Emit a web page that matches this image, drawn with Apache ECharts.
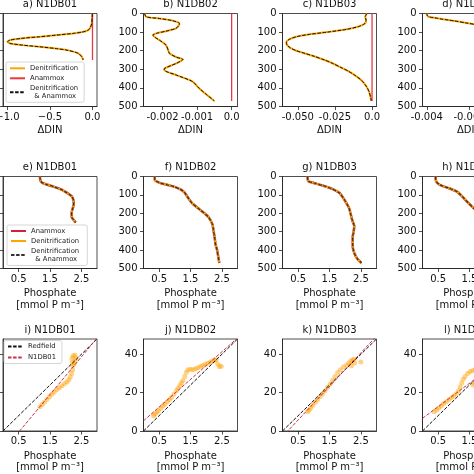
<!DOCTYPE html>
<html><head><meta charset="utf-8">
<script src="https://cdn.jsdelivr.net/npm/echarts@6/dist/echarts.min.js"></script>
<style>html,body{margin:0;padding:0;background:#fff;overflow:hidden}#c{width:474px;height:474px}</style>
</head><body><div id="c"></div>
<script>
// ---------- DATA ----------
// Row 1: ΔDIN profiles (depth in m)
const depA = [0,20,54,75,89,100,107,116,125,134,143,152,161,170,179,188,197,214,232,250];
const dinA = [-0.001,-0.004,-0.009,-0.025,-0.05,-0.12,-0.226,-0.42,-0.62,-0.84,-0.97,-1.0,-0.97,-0.82,-0.62,-0.44,-0.30,-0.167,-0.127,-0.108];
const depB = [0,18,27,39,54,65,80,95,107,116,130,143,170,200,214,235,247,268,295,304,331,366,400,440,470];
const dinB = [-0.00252,-0.00247,-0.00209,-0.0017,-0.00151,-0.00153,-0.00161,-0.0019,-0.00218,-0.00228,-0.0022,-0.00209,-0.0019,-0.00183,-0.0018,-0.0016,-0.00141,-0.0016,-0.00194,-0.00195,-0.0016,-0.00113,-0.00095,-0.0007,-0.0005];
const depC = [0,18,36,55,70,85,100,112,125,140,155,170,185,200,215,230,250,270,290,310,335,360,390,420,450,470];
const dinC = [-0.0034,-0.0046,-0.004,-0.005,-0.009,-0.017,-0.030,-0.042,-0.051,-0.056,-0.0577,-0.0572,-0.055,-0.051,-0.045,-0.039,-0.032,-0.026,-0.021,-0.016,-0.011,-0.007,-0.004,-0.002,-0.001,-0.0005];
const depD = [0,10,18,22,26,30,35,40,50,60,80,100,150,200,300,400,470];
const dinD = [-0.004,-0.00398,-0.0039,-0.0037,-0.0035,-0.0033,-0.003,-0.0027,-0.0022,-0.0017,-0.001,-0.0006,-0.0003,-0.0002,-0.0001,-0.00005,-0.00003];
const anammoxDIN = 0; // Anammox-only ΔDIN (zero change)

// Row 2: Phosphate profiles
const depE = [0,20,33,45,55,70,82,95,109,130,146,165,182,200,219,235,250];
const phE = [1.18,1.19,1.24,1.42,1.61,1.85,1.98,2.1,2.2,2.25,2.26,2.24,2.21,2.19,2.19,2.25,2.32];
const depF = [0,18,33,45,55,70,85,110,145,180,220,260,290,330,370,400,440,470];
const phF = [0.36,0.36,0.5,0.75,0.97,1.18,1.3,1.4,1.55,1.8,2.07,2.2,2.23,2.27,2.3,2.35,2.39,2.42];
const depG = [0,25,35,50,65,90,125,170,200,240,270,300,330,380,420,450,470];
const phG = [0.8,0.82,1.0,1.3,1.55,1.82,1.97,2.12,2.17,2.23,2.29,2.27,2.24,2.24,2.3,2.4,2.52];
const depH = [0,15,30,45,64,82,100,120,145,175,200,250,300,350,400,470];
const phH = [0.42,0.42,0.45,0.55,0.85,1.1,1.22,1.33,1.47,1.65,1.8,2.0,2.15,2.25,2.32,2.4];

// Row 3: Nitrate vs phosphate
const phI = [1.18,1.25,1.32,1.40,1.48,1.56,1.64,1.72,1.80,1.88,1.96,2.04,2.10,2.15,2.19,2.22,2.23,2.21,2.20,2.24,2.30,2.33,2.30,2.26];
const nI  = [12.6,13.8,15.0,16.4,17.8,19.2,20.4,21.6,22.6,23.6,24.6,25.6,26.8,28.2,30.0,32.0,34.0,36.0,38.0,39.3,39.5,38.0,36.5,35.0];
const phJ = [0.32,0.36,0.42,0.47,0.55,0.62,0.68,0.76,0.83,0.89,0.97,1.05,1.10,1.16,1.21,1.26,1.32,1.37,1.42,1.50,1.58,1.66,1.74,1.82,1.89,1.97,2.05,2.13,2.21,2.27,2.32,2.37,2.42,2.48];
const nJ  = [7.9,8.8,9.6,10.5,11.8,13.0,14.0,15.2,16.3,17.5,19.2,21.0,22.3,23.7,25.0,26.3,28.5,30.7,32.0,32.2,32.0,32.5,33.0,33.6,34.2,34.8,35.4,36.0,36.5,37.0,37.2,35.0,33.5,33.8];
const phK = [0.80,0.85,0.90,0.97,1.05,1.12,1.20,1.28,1.36,1.44,1.52,1.60,1.68,1.76,1.85,1.95,2.05,2.12,2.18,2.24,2.28,2.20,2.30,2.50];
const nK  = [10.0,11.0,12.0,13.5,15.0,16.5,18.0,19.5,21.0,22.8,24.5,26.5,28.5,30.5,32.0,33.5,34.5,35.5,36.5,37.0,37.5,34.0,35.5,36.0];
const phL = [0.37,0.45,0.52,0.60,0.68,0.76,0.85,0.93,1.00,1.08,1.15,1.20,1.25,1.30,1.36,1.44,1.52,1.60,1.68,1.62,1.66,1.75,1.85,1.98,2.10,2.22,2.32,2.40];
const nL  = [10.0,11.0,12.0,13.0,14.3,15.3,16.5,17.5,18.3,19.5,21.0,23.0,25.0,27.0,28.5,30.0,31.0,31.5,32.0,24.0,25.0,26.0,27.5,29.0,30.5,32.0,33.5,34.5];
const redfieldRatio = 16;
const regSlope = [19.6, 14.4, 17.5, 12.2];
const regIntercept = [-10.4, 5.3, -2.98, 6.6];
const lineX = [0, 3];

// Titles and ticks
const stations = ['N1DB01','N1DB02','N1DB03','N1DB04'];
const panelLetters = [['a','b','c','d'],['e','f','g','h'],['i','j','k','l']];
const dinRange = [[-1.053,0.053],[-0.00255,0.00017],[-0.0603,0.0030],[-0.0042,0.0002]];
const dinTicks = [[-1,-0.5,0],[-0.002,-0.001,0],[-0.05,-0.025,0],[-0.004,-0.002,0]];
const dinTickLabels = [['\u22121.0','\u22120.5','0.0'],['-0.002','-0.001','0.0'],['-0.050','-0.025','0.0'],['-0.004','-0.002','0.0']];
const phosTicks = [0.5,1.5,2.5];
const phosTickLabels = ['0.5','1.5','2.5'];
const nitTicks = [0,20,40];

// ---------- LAYOUT ----------
const FONT = 'DejaVu Sans';
const AX = '#222';
const colLeft = [3, 143.5, 282.5, 422.5];
const W = 94;
const rowTop = [13.5, 176.5, 339];
const rowH = [93, 92, 92];

const grids = [], xAxes = [], yAxes = [], series = [], graphics = [];
const lbl = (extra) => Object.assign({fontSize:10, color:'#111', fontFamily:FONT}, extra||{});

function baseAxis(idx, extra) {
  return Object.assign({
    type:'value', gridIndex:idx,
    axisLine:{show:true, onZero:false, lineStyle:{color:AX, width:0.8}},
    splitLine:{show:false}
  }, extra);
}
function pick(ticks, labels) {
  return function(v){ let b=0,bd=1e9; ticks.forEach((t,k)=>{const d=Math.abs(t-v); if(d<bd){bd=d;b=k;}}); return labels[b]; };
}

for (let r=0;r<3;r++) for (let c=0;c<4;c++) {
  const idx = r*4+c;
  grids.push({left:colLeft[c], top:rowTop[r], width:W, height:rowH[r], show:true,
    borderColor:AX, borderWidth:0.8, backgroundColor:'rgba(0,0,0,0)', containLabel:false, outerBoundsMode:'none'});
  graphics.push({type:'text', x:colLeft[c]+W/2, y:rowTop[r]-8.8, silent:true,
    style:{text:panelLetters[r][c]+') '+stations[c], font:'10px "DejaVu Sans"', fill:'#111', align:'center', verticalAlign:'middle'}});
  const nameStyle = lbl({lineHeight:11.5});
  if (r===0) {
    xAxes.push(baseAxis(idx,{min:dinRange[c][0], max:dinRange[c][1],
      axisTick:{show:true, length:3.5, lineStyle:{color:AX,width:0.8}, customValues:dinTicks[c]},
      axisLabel:lbl({customValues:dinTicks[c], margin:5.5, formatter:pick(dinTicks[c], dinTickLabels[c])}),
      name:'\u0394DIN', nameLocation:'middle', nameGap:18, nameTextStyle:nameStyle}));
  } else {
    xAxes.push(baseAxis(idx,{min:0, max:3,
      axisTick:{show:true, length:3.5, lineStyle:{color:AX,width:0.8}, customValues:phosTicks},
      axisLabel:lbl({customValues:phosTicks, margin:5.5, formatter:pick(phosTicks, phosTickLabels)}),
      name:'Phosphate\n[mmol P m\u207B\u00B3]', nameLocation:'middle', nameGap:19.5, nameTextStyle:nameStyle}));
  }
  if (r<2) {
    yAxes.push(baseAxis(idx,{inverse:true, min:0, max:500, interval:100,
      axisTick:{show:true, length:3.5, lineStyle:{color:AX,width:0.8}},
      axisLabel:lbl({margin:6})}));
  } else {
    yAxes.push(baseAxis(idx,{min:0, max:48,
      axisTick:{show:true, length:3.5, lineStyle:{color:AX,width:0.8}, customValues:nitTicks},
      axisLabel:lbl({margin:6, customValues:nitTicks})}));
  }
}

const ORANGE = '#ffa500';
const dashed = {color:'#111', width:1, type:[3.5,1.6]};
const prof1 = [[depA,dinA],[depB,dinB],[depC,dinC],[depD,dinD]];
const prof2 = [[depE,phE],[depF,phF],[depG,phG],[depH,phH]];
const sc3 = [[phI,nI],[phJ,nJ],[phK,nK],[phL,nL]];
const lineBase = {type:'line', symbol:'none', smooth:0.25, animation:false, silent:true};

prof1.forEach(([dep,val],c)=>{
  const d = dep.map((z,k)=>[val[k], z]);
  series.push(Object.assign({}, lineBase, {name:'Denitrification', xAxisIndex:c, yAxisIndex:c, data:d,
    lineStyle:{color:ORANGE, width:2}, itemStyle:{color:ORANGE}}));
  series.push(Object.assign({}, lineBase, {name:'Anammox', xAxisIndex:c, yAxisIndex:c, smooth:false,
    data:dep.map(z=>[anammoxDIN, z]), lineStyle:{color:'#e8383d', width:1.3}, itemStyle:{color:'#e8383d'}}));
  series.push(Object.assign({}, lineBase, {name:'Denitrification\n  & Anammox', xAxisIndex:c, yAxisIndex:c, data:d,
    lineStyle:dashed, itemStyle:{color:'#111'}}));
});
prof2.forEach(([dep,val],c)=>{
  const i = 4+c;
  const d = dep.map((z,k)=>[val[k], z]);
  series.push(Object.assign({}, lineBase, {name:'Anammox ', xAxisIndex:i, yAxisIndex:i, data:d,
    lineStyle:{color:'#d81e3a', width:2.5}, itemStyle:{color:'#d81e3a'}}));
  series.push(Object.assign({}, lineBase, {name:'Denitrification ', xAxisIndex:i, yAxisIndex:i, data:d,
    lineStyle:{color:ORANGE, width:2}, itemStyle:{color:ORANGE}}));
  series.push(Object.assign({}, lineBase, {name:'Denitrification \n  & Anammox ', xAxisIndex:i, yAxisIndex:i, data:d,
    lineStyle:{color:'#333', width:1.3, type:[3.5,1.6]}, itemStyle:{color:'#333'}}));
});
sc3.forEach(([px,ny],c)=>{
  const i = 8+c;
  series.push({type:'scatter', xAxisIndex:i, yAxisIndex:i, data:px.map((x,k)=>[x, ny[k]]),
    symbolSize:5, itemStyle:{color:'rgba(255,160,0,0.6)'}, animation:false, silent:true});
  series.push(Object.assign({}, lineBase, {name:'Redfield', xAxisIndex:i, yAxisIndex:i, smooth:false, clip:true,
    data:lineX.map(x=>[x, redfieldRatio*x]), lineStyle:{color:'#111', width:1, type:[3.5,1.6]}, itemStyle:{color:'#111'}}));
  series.push(Object.assign({}, lineBase, {name:stations[c], xAxisIndex:i, yAxisIndex:i, smooth:false, clip:true,
    data:lineX.map(x=>[x, regSlope[c]*x+regIntercept[c]]), lineStyle:{color:'#c8324a', width:1, type:[3.5,1.6]}, itemStyle:{color:'#c8324a'}}));
});

const legBase = {orient:'vertical', itemWidth:15, itemHeight:6, backgroundColor:'#fff', borderColor:'#ccc',
  borderWidth:0.8, borderRadius:2, selectedMode:false, z:10, itemStyle:{opacity:0},
  textStyle:{fontSize:6.8, lineHeight:8, color:'#222', fontFamily:FONT}};
const legends = [
  Object.assign({}, legBase, {data:['Denitrification','Anammox','Denitrification\n  & Anammox'], left:6, top:62, itemGap:2, padding:[2.3,6,2,3]}),
  Object.assign({}, legBase, {data:['Anammox ','Denitrification ','Denitrification \n  & Anammox '], left:7, top:225, itemGap:2, padding:[2,6,2.5,3]}),
  Object.assign({}, legBase, {data:['Redfield','N1DB01'], left:4, top:340.5, itemGap:3, padding:[2,6,2,3]})
];

const chart = echarts.init(document.getElementById('c'), null, {renderer:'canvas'});
chart.setOption({
  animation:false,
  backgroundColor:'#fff',
  textStyle:{fontFamily:FONT},
  grid:grids, xAxis:xAxes, yAxis:yAxes, series:series, legend:legends, graphic:graphics
});
</script></body></html>
